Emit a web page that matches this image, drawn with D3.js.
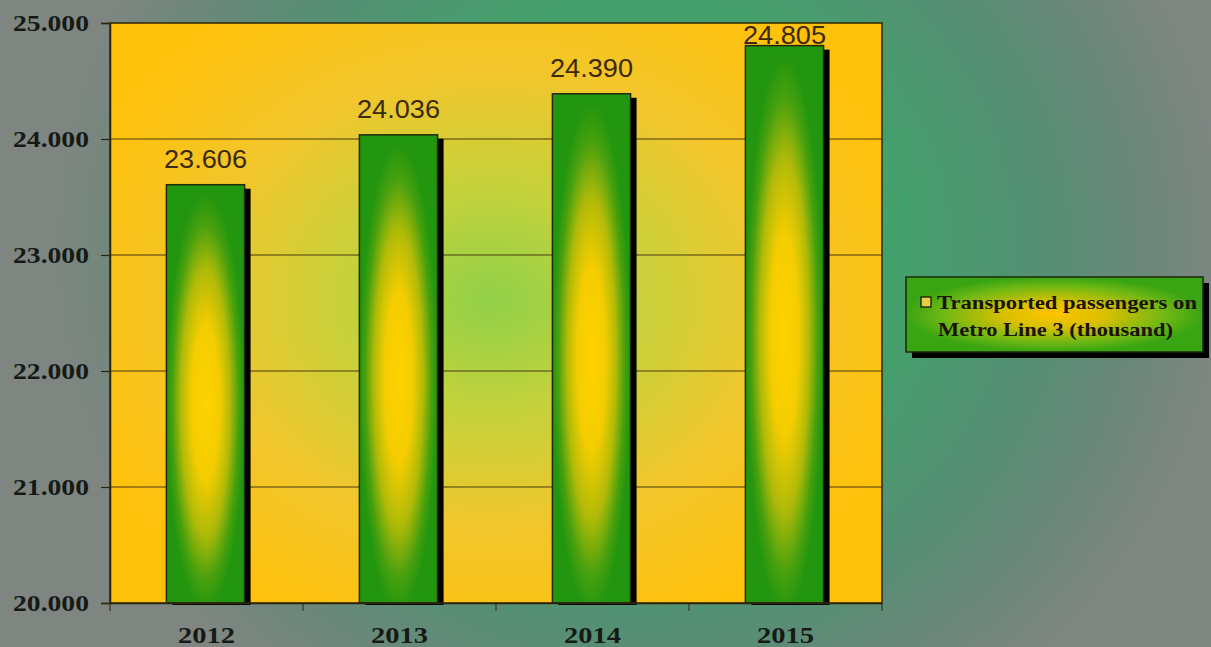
<!DOCTYPE html>
<html>
<head>
<meta charset="utf-8">
<script src="https://cdn.jsdelivr.net/npm/d3@7"></script>
<style>
  html, body { margin: 0; padding: 0; overflow: hidden; }
  svg { display: block; }
</style>
</head>
<body>
<div id="chart"></div>
<script>
// Passengers carried on Metro Line 3, thousands per year
const years = ["2012", "2013", "2014", "2015"];
const passengers = [23606, 24036, 24390, 24805];
const yTicks = [20000, 21000, 22000, 23000, 24000, 25000];
const seriesName = ["Transported passengers on", "Metro Line 3 (thousand)"];

const W = 1211, H = 647;
const plot = { left: 110, right: 882, top: 23, bottom: 603 };

// thousands separated with a dot
const fmt = v => d3.format(",.0f")(v).replace(/,/g, ".");

const svg = d3.select("#chart").append("svg")
  .attr("width", W).attr("height", H);

const defs = svg.append("defs");

// page background: green glow around the chart fading to grey
const bg = defs.append("radialGradient").attr("id", "bgGrad")
  .attr("gradientUnits", "userSpaceOnUse")
  .attr("cx", 640).attr("cy", 250).attr("r", 590)
  .attr("gradientTransform", "translate(640,250) scale(1,0.95) translate(-640,-250)");
bg.append("stop").attr("offset", 0).attr("stop-color", "#38aa6a");
bg.append("stop").attr("offset", 0.45).attr("stop-color", "#44a06c");
bg.append("stop").attr("offset", 0.68).attr("stop-color", "#558f74");
bg.append("stop").attr("offset", 0.86).attr("stop-color", "#6c877a");
bg.append("stop").attr("offset", 1).attr("stop-color", "#7f8682");

// plot area: green centre fading through yellow to orange
const pg = defs.append("radialGradient").attr("id", "plotGrad")
  .attr("gradientUnits", "userSpaceOnUse")
  .attr("cx", 490).attr("cy", 300).attr("r", 440)
  .attr("gradientTransform", "translate(490,300) scale(1,0.8) translate(-490,-300)");
pg.append("stop").attr("offset", 0).attr("stop-color", "#90d048");
pg.append("stop").attr("offset", 0.3).attr("stop-color", "#c2d23c");
pg.append("stop").attr("offset", 0.65).attr("stop-color", "#f2c62c");
pg.append("stop").attr("offset", 1).attr("stop-color", "#ffc10b");

// bars: yellow core, green toward every edge
const bgBar = defs.append("radialGradient").attr("id", "barGrad")
  .attr("cx", 0.5).attr("cy", 0.52).attr("r", 0.5);
bgBar.append("stop").attr("offset", 0).attr("stop-color", "#ffd200");
bgBar.append("stop").attr("offset", 0.36).attr("stop-color", "#f4cd00");
bgBar.append("stop").attr("offset", 0.63).attr("stop-color", "#b0ba08");
bgBar.append("stop").attr("offset", 0.85).attr("stop-color", "#48a00e");
bgBar.append("stop").attr("offset", 1).attr("stop-color", "#22960e");

const lg = defs.append("radialGradient").attr("id", "legGrad")
  .attr("cx", 0.5).attr("cy", 0.5).attr("r", 0.5);
lg.append("stop").attr("offset", 0).attr("stop-color", "#ffc400");
lg.append("stop").attr("offset", 0.35).attr("stop-color", "#d8c000");
lg.append("stop").attr("offset", 0.75).attr("stop-color", "#6fb814");
lg.append("stop").attr("offset", 1).attr("stop-color", "#3aa512");

svg.append("rect").attr("width", W).attr("height", H).attr("fill", "url(#bgGrad)");

const x = d3.scaleBand().domain(years)
  .range([plot.left, plot.right]).paddingInner(0).paddingOuter(0);
const y = d3.scaleLinear().domain([20000, 25000])
  .range([plot.bottom, plot.top]);

svg.append("rect")
  .attr("x", plot.left).attr("y", plot.top)
  .attr("width", plot.right - plot.left).attr("height", plot.bottom - plot.top)
  .attr("fill", "url(#plotGrad)");

// horizontal gridlines
svg.append("g").selectAll("line").data(yTicks.slice(1, -1)).join("line")
  .attr("x1", plot.left).attr("x2", plot.right)
  .attr("y1", d => y(d)).attr("y2", d => y(d))
  .attr("stroke", "#4a3a10").attr("stroke-width", 1.2);

const barW = x.bandwidth() * 0.405;
const bx = d => x(d) + (x.bandwidth() - barW) / 2 - 1;

// bar shadows
svg.append("g").selectAll("rect").data(years).join("rect")
  .attr("x", d => bx(d) + 6)
  .attr("y", (d, i) => y(passengers[i]) + 4)
  .attr("width", barW)
  .attr("height", (d, i) => plot.bottom - y(passengers[i]) - 2)
  .attr("fill", "#000");

svg.append("g").selectAll("rect").data(years).join("rect")
  .attr("x", d => bx(d))
  .attr("y", (d, i) => y(passengers[i]))
  .attr("width", barW)
  .attr("height", (d, i) => plot.bottom - y(passengers[i]))
  .attr("fill", "url(#barGrad)")
  .attr("stroke", "#1f2a08").attr("stroke-width", 1.5);

// value labels
svg.append("g").selectAll("text").data(years).join("text")
  .attr("x", d => bx(d) + barW / 2)
  .attr("y", (d, i) => Math.max(y(passengers[i]) - 17, 44))
  .attr("text-anchor", "middle")
  .attr("font-family", "Liberation Sans, Arial, sans-serif")
  .attr("font-size", 25)
  .attr("textLength", 83).attr("lengthAdjust", "spacingAndGlyphs")
  .attr("fill", "#3b2a0c")
  .text((d, i) => fmt(passengers[i]));

// plot frame
svg.append("rect")
  .attr("x", plot.left).attr("y", plot.top)
  .attr("width", plot.right - plot.left).attr("height", plot.bottom - plot.top)
  .attr("fill", "none").attr("stroke", "#2e2408").attr("stroke-width", 1.5);

// y axis
const yAxis = d3.axisLeft(y).tickValues(yTicks).tickFormat(fmt).tickSize(9).tickPadding(12);
const gy = svg.append("g").attr("transform", `translate(${plot.left},0)`).call(yAxis);
gy.select(".domain").attr("stroke", "#2e2408").attr("stroke-width", 1.5);
gy.selectAll(".tick line").attr("stroke", "#2e2408").attr("stroke-width", 1.2);
gy.selectAll(".tick text")
  .attr("font-family", "Liberation Serif, Times New Roman, serif")
  .attr("font-weight", "bold").attr("font-size", 24).attr("fill", "#161a16")
  .attr("textLength", 76).attr("lengthAdjust", "spacingAndGlyphs")
  .attr("dy", "0.33em");

// x axis: ticks fall between categories
const xAxis = d3.axisBottom(x).tickSize(0).tickPadding(23);
const gx = svg.append("g").attr("transform", `translate(0,${plot.bottom})`).call(xAxis);
gx.select(".domain").attr("stroke", "#2e2408").attr("stroke-width", 1.5);
gx.selectAll(".tick text")
  .attr("font-family", "Liberation Serif, Times New Roman, serif")
  .attr("font-weight", "bold").attr("font-size", 24).attr("fill", "#161a16")
  .attr("textLength", 57).attr("lengthAdjust", "spacingAndGlyphs");
gx.append("g").selectAll("line")
  .data(years.map(d => x(d)).concat([plot.right]))
  .join("line")
  .attr("x1", d => d).attr("x2", d => d)
  .attr("y1", 0).attr("y2", 8)
  .attr("stroke", "#2e2408").attr("stroke-width", 1);

// legend
const leg = { x: 906, y: 277, w: 297, h: 75 };
svg.append("rect")
  .attr("x", leg.x + 6).attr("y", leg.y + 6)
  .attr("width", leg.w).attr("height", leg.h).attr("fill", "#000");
svg.append("rect")
  .attr("x", leg.x).attr("y", leg.y).attr("width", leg.w).attr("height", leg.h)
  .attr("fill", "url(#legGrad)").attr("stroke", "#1a2a08").attr("stroke-width", 1.5);
svg.append("rect")
  .attr("x", 921).attr("y", 297).attr("width", 10).attr("height", 10)
  .attr("fill", "#e6d048").attr("stroke", "#1a1a08").attr("stroke-width", 1.3);
const legLen = [260, 235];
svg.append("g").selectAll("text").data(seriesName).join("text")
  .attr("x", (d, i) => i === 0 ? 937 : 938)
  .attr("y", (d, i) => 309 + i * 27)
  .attr("font-family", "Liberation Serif, Times New Roman, serif")
  .attr("font-weight", "bold").attr("font-size", 19).attr("fill", "#1c1206")
  .attr("textLength", (d, i) => legLen[i]).attr("lengthAdjust", "spacingAndGlyphs")
  .text(d => d);
</script>
</body>
</html>
